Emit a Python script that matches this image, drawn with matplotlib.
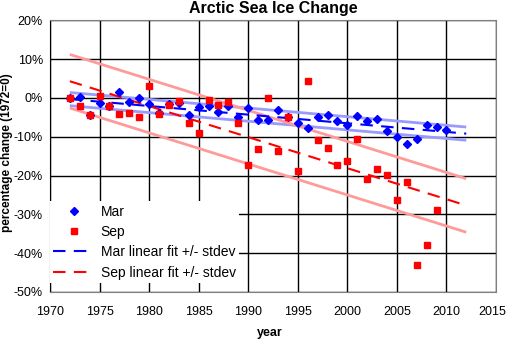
import numpy as np
import matplotlib
matplotlib.use('Agg')
import matplotlib.pyplot as plt
import matplotlib.transforms as mtransforms
from matplotlib.lines import Line2D

plt.rcParams['font.family'] = ['Liberation Sans', 'DejaVu Sans']

years = list(range(1972, 2011))
mar = [0.0, 0.2, -4.3, -1.3, -2.1, 1.4, -1.1, 0.0, -1.5, -4.0, -1.6, -1.3,
       -4.5, -2.4, -2.2, -3.5, -2.0, -5.0, -2.7, -5.6, -5.8, -3.2, -5.0, -6.5,
       -7.7, -5.0, -4.5, -6.0, -7.1, -4.7, -6.0, -5.4, -8.4, -10.0, -11.9,
       -10.6, -7.1, -7.5, -8.2]
sep_years = list(range(1972, 2010))
sep = [0.0, -2.2, -4.5, 0.4, -2.2, -4.1, -4.0, -5.0, 3.2, -4.1, -1.7, -0.9,
       -6.5, -9.1, -0.6, -1.9, -1.1, -6.5, -17.4, -13.2, -0.1, -13.8, -5.0,
       -18.7, 4.3, -10.8, -13.0, -17.4, -16.3, -10.7, -21.0, -18.4, -19.8,
       -26.2, -21.6, -43.1, -38.0, -29.0]

fit_years = [1972, 2012]
mar_fit = [-0.3, -9.2]
mar_sd = 1.7
sep_fit = [4.3, -27.7]
sep_sd = 6.9

yticks = [20, 10, 0, -10, -20, -30, -40, -50]
ytick_labels = ['20%', '10%', '0%', '-10%', '-20%', '-30%', '-40%', '-50%']
xticks = list(range(1970, 2016, 5))

fig = plt.figure(figsize=(5.07, 3.41), dpi=100)
ax = fig.add_axes([50/507, (341-292)/341, 446/507, 271.7/341])

# std dev bands
fy = np.array(fit_years)
for f, sd, c in [(mar_fit, mar_sd, '#9a9aff'), (sep_fit, sep_sd, '#ff9a9a')]:
    f = np.array(f)
    ax.plot(fy, f + sd, color=c, lw=2.0, zorder=3, solid_capstyle='butt')
    ax.plot(fy, f - sd, color=c, lw=2.0, zorder=3, solid_capstyle='butt')

ax.plot(fit_years, mar_fit, color='blue', lw=1.5, dashes=(6, 4), zorder=4)
ax.plot(fit_years, sep_fit, color='red', lw=1.5, dashes=(6, 4), zorder=4)
ax.plot(years, mar, 'D', color='blue', ms=3.8, mec='blue', zorder=5)
ax.plot(sep_years, sep, 's', color='red', ms=4.4, mec='red', zorder=6)

ax.set_xlim(1970, 2015)
ax.set_ylim(-50, 20)
ax.set_xticks(xticks)
ax.set_yticks(yticks)
ax.set_yticklabels(ytick_labels)
ax.tick_params(length=0, labelsize=9)
ax.tick_params(axis='x', pad=10)
ax.tick_params(axis='y', pad=5)
ax.grid(True, color='black', lw=1)
ax.set_axisbelow(True)
for s in ['top', 'right', 'bottom']:
    ax.spines[s].set_color('#808080')
ax.spines['left'].set_color('black')

# keep the last year label inside the figure
last = ax.get_xticklabels()[-1]
last.set_transform(last.get_transform() +
                   mtransforms.ScaledTranslation(-4/100, 0, fig.dpi_scale_trans))

ax.set_title('Arctic Sea Ice Change', fontsize=11.5, fontweight='bold', pad=5)
fig.text(270/507, 1 - 333/341, 'year', ha='center', va='center',
         fontsize=9, fontweight='bold')
fig.text(7/507, 1 - 153/341, 'percentage change (1972=0)', ha='center',
         va='center', rotation=90, fontsize=8.5, fontweight='bold')

handles = [
    Line2D([], [], marker='D', color='blue', ls='none', ms=3.8),
    Line2D([], [], marker='s', color='red', ls='none', ms=4.4),
    Line2D([], [], color='blue', lw=1.5, dashes=(6, 4)),
    Line2D([], [], color='red', lw=1.5, dashes=(6, 4)),
]
labels = ['Mar', 'Sep', 'Mar linear fit +/- stdev', 'Sep linear fit +/- stdev']
leg = ax.legend(handles, labels, loc='lower left',
                bbox_to_anchor=(0, 9/271.7), borderaxespad=0, fontsize=10,
                frameon=True, fancybox=False, handlelength=2.9,
                handletextpad=0.5, labelspacing=0.45, borderpad=0.25)
leg.get_frame().set_edgecolor('none')
leg.get_frame().set_facecolor('white')
leg.get_frame().set_alpha(1)

fig.savefig('out.png', dpi=100)
